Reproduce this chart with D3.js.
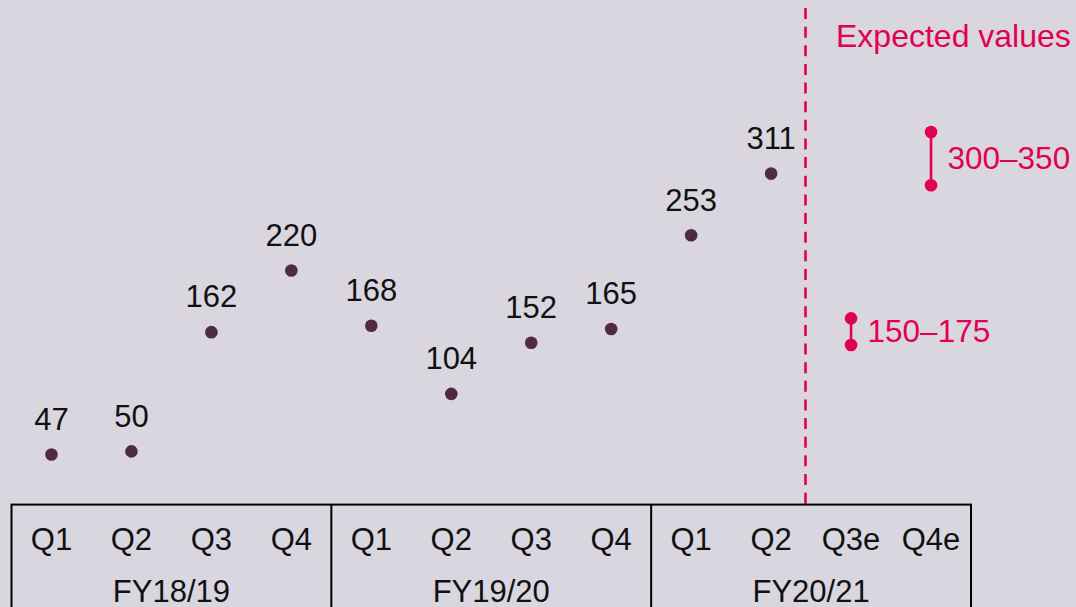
<!DOCTYPE html>
<html>
<head>
<meta charset="utf-8">
<script src="https://cdn.jsdelivr.net/npm/d3@7"></script>
<style>
  html, body { margin: 0; padding: 0; background: #d9d6df; }
  svg { display: block; font-family: "Liberation Sans", Arial, sans-serif; }
</style>
</head>
<body>
<svg id="chart" width="1076" height="607"></svg>
<script>
// Quarterly values per fiscal year
const quarters = ["Q1", "Q2", "Q3", "Q4", "Q1", "Q2", "Q3", "Q4", "Q1", "Q2", "Q3e", "Q4e"];
const fiscalYears = ["FY18/19", "FY19/20", "FY20/21"];
const actualValues = [47, 50, 162, 220, 168, 104, 152, 165, 253, 311];
// Expected ranges for the remaining quarters
const expectedLow = [150, 300];
const expectedHigh = [175, 350];
const expectedLabels = ["150–175", "300–350"];
const expectedTitle = "Expected values";

const W = 1076, H = 607;
const svg = d3.select("#chart");
const colDark = "#4e2a45";
const colRed = "#e2004f";
const colText = "#111111";
const fs = 31;

const keys = quarters.map((q, i) => i);
const x = d3.scaleBand().domain(keys).range([11.5, 971]).padding(0);
const cx = i => x(i) + x.bandwidth() / 2;
const y = d3.scaleLinear().domain([0, 400]).range([504.6, 78.85]);

// Dashed separator between actual and expected quarters
const sepX = cx(9) + x.bandwidth() * 0.43;
svg.append("line")
  .attr("x1", sepX).attr("x2", sepX)
  .attr("y1", 8).attr("y2", y(0))
  .attr("stroke", colRed).attr("stroke-width", 2.6)
  .attr("stroke-dasharray", "11 7.64");

svg.append("text")
  .attr("x", 836).attr("y", 46.5)
  .attr("font-size", 32).attr("fill", colRed)
  .text(expectedTitle);

// Actual values
const actual = svg.append("g");
actual.selectAll("circle").data(actualValues).join("circle")
  .attr("cx", (d, i) => cx(i)).attr("cy", d => y(d))
  .attr("r", 6.3).attr("fill", colDark);
actual.selectAll("text").data(actualValues).join("text")
  .attr("x", (d, i) => cx(i)).attr("y", d => y(d) - 24.7)
  .attr("text-anchor", "middle").attr("font-size", fs).attr("fill", colText)
  .text(d => d);

// Expected ranges
const ranges = expectedLow.map((lo, k) => ({ lo, hi: expectedHigh[k], label: expectedLabels[k], i: 10 + k }));
const rg = svg.append("g").selectAll("g").data(ranges).join("g");
rg.append("line")
  .attr("x1", d => cx(d.i)).attr("x2", d => cx(d.i))
  .attr("y1", d => y(d.lo)).attr("y2", d => y(d.hi))
  .attr("stroke", colRed).attr("stroke-width", 2.6);
rg.selectAll("circle").data(d => [d.lo, d.hi].map(v => ({ v, i: d.i }))).join("circle")
  .attr("cx", d => cx(d.i)).attr("cy", d => y(d.v))
  .attr("r", 6.3).attr("fill", colRed);
rg.append("text")
  .attr("x", d => cx(d.i) + 16.5)
  .attr("y", d => (y(d.lo) + y(d.hi)) / 2 + 10.8)
  .attr("font-size", 31.5).attr("fill", colRed)
  .text(d => d.label);

// Category table along the bottom
const table = svg.append("g");
const tableTop = y(0);
table.append("rect")
  .attr("x", x(0)).attr("y", tableTop)
  .attr("width", x.bandwidth() * quarters.length).attr("height", 200)
  .attr("fill", "none").attr("stroke", "#000").attr("stroke-width", 2);
[4, 8].forEach(i => {
  table.append("line")
    .attr("x1", x(i)).attr("x2", x(i))
    .attr("y1", tableTop).attr("y2", H + 10)
    .attr("stroke", "#000").attr("stroke-width", 2);
});
table.selectAll("text.q").data(quarters).join("text")
  .attr("class", "q")
  .attr("x", (d, i) => cx(i)).attr("y", 550.3)
  .attr("text-anchor", "middle").attr("font-size", fs).attr("fill", colText)
  .text(d => d);
table.selectAll("text.fy").data(fiscalYears).join("text")
  .attr("class", "fy")
  .attr("x", (d, k) => x(k * 4) + x.bandwidth() * 2).attr("y", 601.5)
  .attr("text-anchor", "middle").attr("font-size", fs).attr("fill", colText)
  .text(d => d);
</script>
</body>
</html>
